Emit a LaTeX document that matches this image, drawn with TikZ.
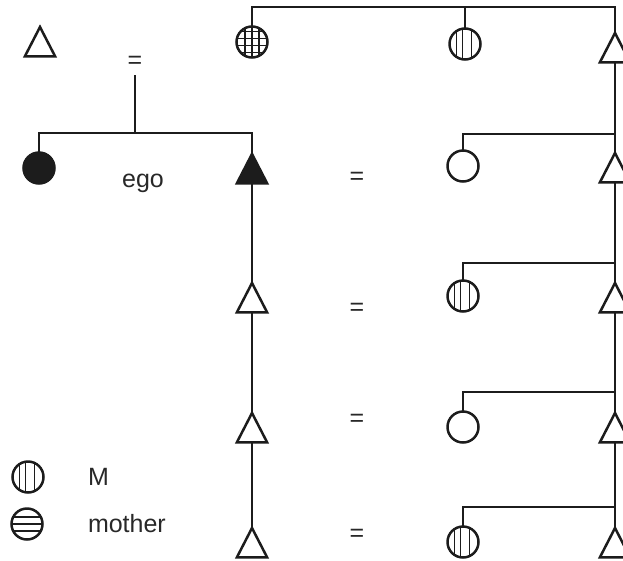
\documentclass[tikz,border=0pt]{standalone}
\usepackage{fontspec}
\setmainfont{Liberation Sans}
\usetikzlibrary{shapes.geometric}
\definecolor{ink}{RGB}{28,28,28}
\definecolor{txt}{RGB}{40,40,40}
\begin{document}
\begin{tikzpicture}[x=1pt,y=-1pt,
  every node/.style={inner sep=0pt, outer sep=0pt},
  link/.style={draw=ink, line width=2.8pt},
  male/.style={regular polygon, regular polygon sides=3, minimum size=35pt,
    yscale=1.12, draw=ink, fill=white, line width=2.5pt},
  malefilled/.style={male, fill=ink},
  female/.style={circle, minimum size=31pt, draw=ink, fill=white, line width=2.5pt},
  femalefilled/.style={female, fill=ink},
  vstripe/.style={female, path picture={
    \foreach \sx in {-8.5,-2.5,6.5}{
      \draw[ink, line width=1.6pt]
        ([xshift=\sx pt]path picture bounding box.north) --
        ([xshift=\sx pt]path picture bounding box.south);}}},
  hstripe/.style={female, path picture={
    \foreach \sy in {-7,0,7}{
      \draw[ink, line width=1.6pt]
        ([yshift=\sy pt]path picture bounding box.west) --
        ([yshift=\sy pt]path picture bounding box.east);}}},
  gridded/.style={female, path picture={
    \foreach \sx in {-7,0,7}{
      \draw[ink, line width=1.5pt]
        ([xshift=\sx pt]path picture bounding box.north) --
        ([xshift=\sx pt]path picture bounding box.south);}
    \foreach \sy in {-10.5,-3.5,3.5,10.5}{
      \draw[ink, line width=1.5pt]
        ([yshift=\sy pt]path picture bounding box.west) --
        ([yshift=\sy pt]path picture bounding box.east);}}},
  lbl/.style={font=\fontsize{25}{30}\selectfont, text=txt},
]
\useasboundingbox (0,0) rectangle (623,560);

% top generation
\node[male] (f0) at (40,46.6) {};
\node[lbl] (eq0) at (135,62) {=};
\node[gridded] (gm) at (252,42) {};
\node[vstripe] (m0) at (465,44) {};
\node[male] (r1) at (615,52.6) {};
\coordinate (topR) at (615,7);
\draw[link] (gm.north) |- (topR) -- (r1.north);
\draw[link] (m0.north) -- (m0.north |- topR);

% ego and sibling
\coordinate (sib) at (135,75);
\coordinate (sibbar) at (135,133);
\node[femalefilled] (sis) at (39,168) {};
\node[malefilled] (ego) at (252,173.6) {};
\node[lbl, anchor=base] (egolbl) at (143,187) {ego};
\draw[link] (sib) -- (sibbar);
\draw[link] (sis.north) |- (sibbar) -| (ego.north);

% ego's line of descent
\node[male] (t2) at (252,302.6) {};
\node[male] (t3) at (252,432.6) {};
\node[male] (t4) at (252,547.6) {};
\draw[link] (ego.south) -- (t2.north);
\draw[link] (t2.south) -- (t3.north);
\draw[link] (t3.south) -- (t4.north);

% marriage signs
\node[lbl] (eq1) at (357,178) {=};
\node[lbl] (eq2) at (357,309) {=};
\node[lbl] (eq3) at (357,420) {=};
\node[lbl] (eq4) at (357,535) {=};

% right-hand line
\node[male] (r2) at (615,172.6) {};
\node[male] (r3) at (615,302.6) {};
\node[male] (r4) at (615,432.6) {};
\node[male] (r5) at (615,547.6) {};
\draw[link] (r1.south) -- (r2.north);
\draw[link] (r2.south) -- (r3.north);
\draw[link] (r3.south) -- (r4.north);
\draw[link] (r4.south) -- (r5.north);

% wives joined to the right-hand line
\node[female] (w1) at (463,166) {};
\node[vstripe] (w2) at (463,296) {};
\node[female] (w3) at (463,427) {};
\node[vstripe] (w4) at (463,542) {};
\coordinate (b1) at (615,134);
\coordinate (b2) at (615,263);
\coordinate (b3) at (615,392);
\coordinate (b4) at (615,507);
\draw[link] (w1.north) |- (b1);
\draw[link] (w2.north) |- (b2);
\draw[link] (w3.north) |- (b3);
\draw[link] (w4.north) |- (b4);

% legend
\node[vstripe] (keyM) at (28,477) {};
\node[hstripe] (keyMo) at (27,524) {};
\node[lbl, anchor=west] (keyMtxt) at (88,477) {M};
\node[lbl, anchor=west] (keyMotxt) at (88,524) {mother};
\end{tikzpicture}
\end{document}
